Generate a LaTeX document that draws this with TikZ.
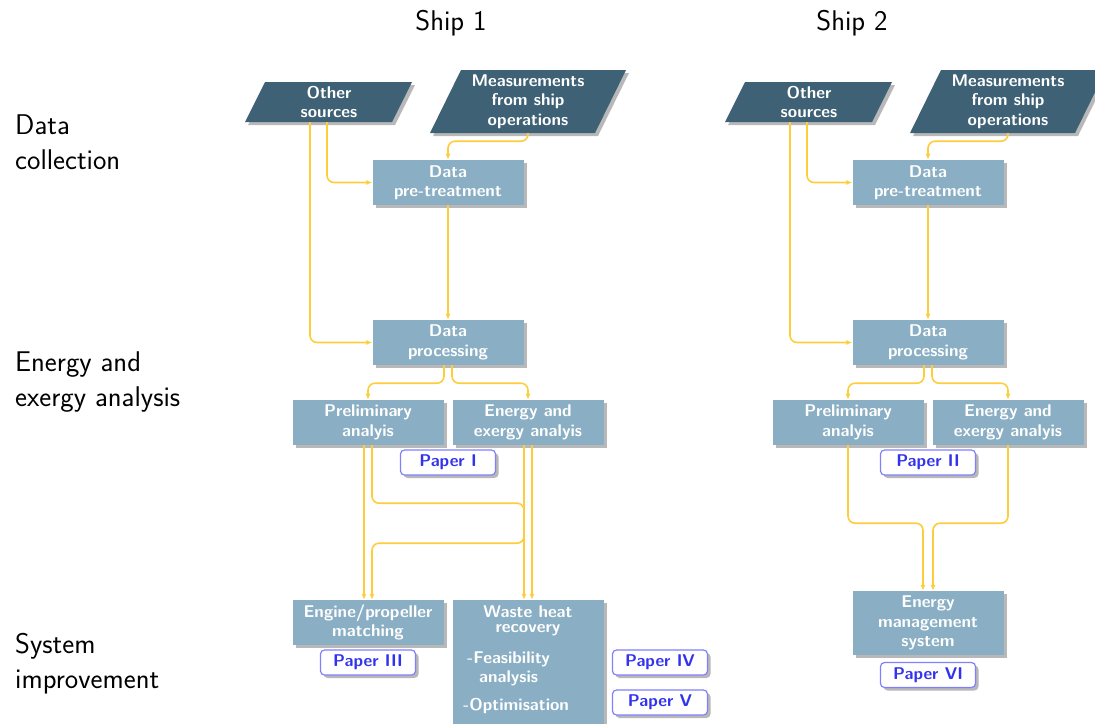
\documentclass[tikz,border=0pt]{standalone}
\usetikzlibrary{shadows,arrows.meta,calc}

\definecolor{darkslate}{HTML}{3E6175}
\definecolor{lightslate}{HTML}{8AAFC4}
\definecolor{flow}{HTML}{FFCD3C}
\definecolor{paperblue}{HTML}{3333EE}
\definecolor{paperedge}{HTML}{8080FF}

\tikzset{
  boxshadow/.style={drop shadow={shadow xshift=3pt,shadow yshift=-3pt,fill=black!28,opacity=1}},
  boxfont/.style={font=\sffamily\bfseries\fontsize{17}{19.5}\selectfont},
  stage/.style={rectangle, fill=lightslate, text=white, boxfont, align=center,
    minimum width=151pt, minimum height=45pt, inner sep=0pt, boxshadow},
  source/.style={fill=darkslate, boxshadow},
  sourcetext/.style={text=white, boxfont, align=center, inner sep=0pt, minimum width=100pt},
  paper/.style={rectangle, rounded corners=4pt, draw=paperedge, line width=1.2pt, fill=white,
    text=paperblue, boxfont, minimum width=95pt, minimum height=25pt, inner sep=0pt, boxshadow},
  plain/.style={text=white, boxfont, inner sep=0pt},
  flowline/.style={draw=flow, line width=1.6pt, rounded corners=7pt, -{Latex[length=6pt,width=5pt]}},
  heading/.style={font=\sffamily\fontsize{28.5}{35}\selectfont, align=left, inner sep=0pt, anchor=north west},
  shiptitle/.style={font=\sffamily\fontsize{28.5}{35}\selectfont, inner sep=0pt, anchor=base},
}

\begin{document}
\begin{tikzpicture}[x=1pt,y=-1pt]
\useasboundingbox (0,0) rectangle (1095,723);

% row headings
\node[heading] (hdata) at (15,115) {Data\\collection};
\node[heading] (hanalysis) at (15,352) {Energy and\\exergy analysis};
\node[heading] (himprove) at (15,633) {System\\improvement};
\node[shiptitle] (ship1) at (451,30) {Ship 1};
\node[shiptitle] (ship2) at (852,30) {Ship 2};

% the common upper part of each ship's chain
\foreach \dx/\s in {0/1,480/2}{
  \fill[source] ({265+\dx},82) -- ({412+\dx},82) -- ({392+\dx},122) -- ({245+\dx},122) -- cycle;
  \node[sourcetext, minimum height=40pt] (other\s) at ({329+\dx},102) {Other\\sources};
  \fill[source] ({461+\dx},70) -- ({626+\dx},70) -- ({595+\dx},133) -- ({430+\dx},133) -- cycle;
  \node[sourcetext, minimum height=63pt] (meas\s) at ({528+\dx},101.5) {Measurements\\from ship\\operations};

  \node[stage] (pre\s) at ({448+\dx},182.5) {Data\\pre-treatment};
  \node[stage] (proc\s) at ({448+\dx},342.5) {Data\\processing};
  \node[stage] (prelim\s) at ({368+\dx},422.5) {Preliminary\\analyis};
  \node[stage] (energy\s) at ({528+\dx},422.5) {Energy and\\exergy analyis};

  \draw[flowline] ($(other\s.south)+(-19,0)$) |- (proc\s.west);
  \draw[flowline] ($(other\s.south)+(-2,0)$) |- (pre\s.west);
  \draw[flowline] (meas\s.south) -- ++(0,8) -| (pre\s.north);
  \draw[flowline] (pre\s.south) -- (proc\s.north);
  \draw[flowline] ($(proc\s.south)+(-4,0)$) -- ++(0,18) -| (prelim\s.north);
  \draw[flowline] ($(proc\s.south)+(4,0)$) -- ++(0,18) -| (energy\s.north);
}

% ship 1: improvements
\node[paper] (paperI) at (448,462.5) {Paper I};
\node[stage] (engine) at (368,622.5) {Engine/propeller\\matching};
\node[stage, minimum height=124pt] (whr) at (528,662) {};
\node[plain, align=center, anchor=north, font=\sffamily\bfseries\fontsize{17}{15.5}\selectfont] (whrtitle) at (528,605) {Waste heat\\recovery};
\node[plain, anchor=base west] (feas) at (467,663) {-Feasibility};
\node[plain, anchor=base west] (feas2) at (479,682) {analysis};
\node[plain, anchor=base west] (optim) at (463,710) {-Optimisation};
\node[paper] (paperIII) at (368,662.5) {Paper III};
\node[paper] (paperIV) at (660,662.5) {Paper IV};
\node[paper] (paperV) at (660,702.5) {Paper V};

\draw[flowline] ($(prelim1.south)+(-4,0)$) -- ($(engine.north)+(-4,0)$);
\draw[flowline] ($(prelim1.south)+(4,0)$) -- ++(0,58) -| ($(whr.north)+(-4,0)$);
\draw[flowline] ($(energy1.south)+(4,0)$) -- ($(whr.north)+(4,0)$);
\draw[flowline] ($(energy1.south)+(-4,0)$) -- ++(0,98) -| ($(engine.north)+(4,0)$);

% ship 2: improvements
\node[paper] (paperII) at (928,462.5) {Paper II};
\node[stage, minimum height=64pt] (ems) at (928,623) {Energy\\management\\system};
\node[paper] (paperVI) at (928,675) {Paper VI};

\draw[flowline] (prelim2.south) -- ++(0,78) -| ($(ems.north)+(-5,0)$);
\draw[flowline] (energy2.south) -- ++(0,78) -| ($(ems.north)+(5,0)$);
\end{tikzpicture}
\end{document}
